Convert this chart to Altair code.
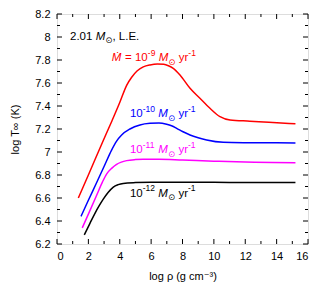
import altair as alt
import pandas as pd

# ---------------- data ----------------
rho_red = [1.36, 2.0, 2.95, 3.5, 4.0, 4.44, 4.76, 5.1, 5.5, 5.93, 6.4, 6.8, 7.1, 7.41,
           7.84, 8.48, 9.11, 9.75, 10.39, 11.03, 12.3, 13.5, 15.2]
T_red = [6.60, 6.80, 7.10, 7.27, 7.43, 7.58, 7.65, 7.705, 7.74, 7.757, 7.765, 7.762, 7.75, 7.728,
         7.67, 7.554, 7.467, 7.38, 7.307, 7.278, 7.268, 7.258, 7.245]

rho_blue = [1.53, 2.0, 2.5, 3.0, 3.48, 3.8, 4.12, 4.65, 5.29, 5.93, 6.5, 6.99, 7.3, 7.63,
            8.0, 8.48, 9.0, 9.54, 10.6, 12.3, 15.2]
T_blue = [6.44, 6.58, 6.726, 6.874, 7.017, 7.095, 7.148, 7.20, 7.235, 7.249, 7.252, 7.241, 7.228, 7.206,
          7.178, 7.148, 7.124, 7.104, 7.084, 7.081, 7.079]

rho_mag = [1.61, 2.0, 2.5, 2.9, 3.17, 3.5, 3.8, 4.1, 4.44, 5.0, 5.5, 6.5, 8.0, 10.0, 12.0, 15.2]
T_mag = [6.34, 6.46, 6.615, 6.74, 6.81, 6.86, 6.893, 6.912, 6.925, 6.934, 6.937, 6.937, 6.93,
         6.92, 6.912, 6.907]

rho_blk = [1.74, 2.1, 2.42, 2.7, 2.95, 3.27, 3.59, 3.9, 4.22, 5.0, 6.0, 8.0, 10.0, 12.0, 15.2]
T_blk = [6.28, 6.38, 6.467, 6.535, 6.59, 6.65, 6.695, 6.716, 6.727, 6.734, 6.737, 6.737,
         6.736, 6.735, 6.734]

series_names = ["1e-9", "1e-10", "1e-11", "1e-12"]
series_colors = ["#ff0000", "#0000ff", "#ff00ff", "#000000"]

x_major = [0, 2, 4, 6, 8, 10, 12, 14, 16]
x_minor = [1, 3, 5, 7, 9, 11, 13, 15]
y_major = [6.2, 6.4, 6.6, 6.8, 7.0, 7.2, 7.4, 7.6, 7.8, 8.0, 8.2]
y_minor = [6.3, 6.5, 6.7, 6.9, 7.1, 7.3, 7.5, 7.7, 7.9, 8.1]

# annotation anchors (data coordinates) and their pieces
ann_anchor_x = [0.83, 3.49, 4.65, 4.65, 4.65]
ann_anchor_y = [7.974, 7.791, 7.304, 6.987, 6.609]
ann_colors = ["#000000", "#ff0000", "#0000ff", "#ff00ff", "#000000"]
ann_parts = [
    [("2.01 ", "n"), ("M", "i"), ("\u2299", "sub"), (", L.E.", "n")],
    [("\u1E40", "i"), (" = 10", "n"), ("-9", "sup"), (" ", "n"), ("M", "i"), ("\u2299", "sub"), (" yr", "n"), ("-1", "sup")],
    [("10", "n"), ("-10", "sup"), (" ", "n"), ("M", "i"), ("\u2299", "sub"), (" yr", "n"), ("-1", "sup")],
    [("10", "n"), ("-11", "sup"), (" ", "n"), ("M", "i"), ("\u2299", "sub"), (" yr", "n"), ("-1", "sup")],
    [("10", "n"), ("-12", "sup"), (" ", "n"), ("M", "i"), ("\u2299", "sub"), (" yr", "n"), ("-1", "sup")],
]

# ---------------- styling ----------------
FONT = "Liberation Sans, Arial, Helvetica, DejaVu Sans, sans-serif"
W, H = 251, 230
BASE = 11
LBL = 11.5
SIZES = {"n": LBL, "i": LBL, "sup": 8.5, "sub": 8.5}
DYS = {"n": 0, "i": 0, "sup": -5.5, "sub": 3.5}
CHAR_W = {"0": .556, "1": .556, "2": .556, "3": .556, "4": .556, "5": .556, "6": .556,
          "7": .556, "8": .556, "9": .556, " ": .29, "=": .584, "-": .333, "M": .833,
          "\u1E40": .86, "y": .5, "r": .333, "L": .556, "E": .667, ".": .278, ",": .278,
          "\u2299": .838}


def text_width(s, size):
    return sum(CHAR_W.get(c, .556) for c in s) * size


xs = alt.Scale(domain=[0, 16], nice=False, zero=False)
ys = alt.Scale(domain=[6.2, 8.2], nice=False, zero=False)

rows = []
for name, xs_, ts_ in zip(series_names, [rho_red, rho_blue, rho_mag, rho_blk],
                          [T_red, T_blue, T_mag, T_blk]):
    for r, t in zip(xs_, ts_):
        rows.append({"rho": r, "T": t, "series": name})
df = pd.DataFrame(rows)

x_axis = alt.Axis(values=x_major, title="log \u03c1 (g cm\u207b\u00b3)", ticks=False,
                  domain=False, grid=False, labelPadding=6, titlePadding=9,
                  labelFont=FONT, titleFont=FONT, labelFontSize=BASE, titleFontSize=BASE,
                  titleFontWeight="normal", labelColor="black", titleColor="black")
y_axis = alt.Axis(values=y_major, format="~g", title="log T\u221e (K)", ticks=False,
                  domain=False, grid=False, labelPadding=7, titlePadding=14,
                  labelFont=FONT, titleFont=FONT, labelFontSize=BASE, titleFontSize=BASE,
                  titleFontWeight="normal", labelColor="black", titleColor="black")

lines = alt.Chart(df).mark_line(strokeWidth=1.5, interpolate="monotone").encode(
    x=alt.X("rho:Q", scale=xs, axis=x_axis),
    y=alt.Y("T:Q", scale=ys, axis=y_axis),
    color=alt.Color("series:N", scale=alt.Scale(domain=series_names, range=series_colors),
                    legend=None),
    detail="series:N",
)


def tick_layer(vals, axis, length, side):
    if axis == "x":
        d = pd.DataFrame({"rho": vals})
        base = alt.Chart(d).mark_rule(color="black", strokeWidth=1)
        if side == "bottom":
            return base.encode(x=alt.X("rho:Q", scale=xs, axis=x_axis),
                               y=alt.value(H), y2=alt.value(H - length))
        return base.encode(x=alt.X("rho:Q", scale=xs, axis=x_axis),
                           y=alt.value(0), y2=alt.value(length))
    d = pd.DataFrame({"T": vals})
    base = alt.Chart(d).mark_rule(color="black", strokeWidth=1)
    if side == "left":
        return base.encode(y=alt.Y("T:Q", scale=ys, axis=y_axis),
                           x=alt.value(0), x2=alt.value(length))
    return base.encode(y=alt.Y("T:Q", scale=ys, axis=y_axis),
                       x=alt.value(W), x2=alt.value(W - length))


ticks = [
    tick_layer(x_major, "x", 5, "bottom"), tick_layer(x_major, "x", 5, "top"),
    tick_layer(x_minor, "x", 3, "bottom"), tick_layer(x_minor, "x", 3, "top"),
    tick_layer(y_major, "y", 5, "left"), tick_layer(y_major, "y", 5, "right"),
    tick_layer(y_minor, "y", 3, "left"), tick_layer(y_minor, "y", 3, "right"),
]

texts = []
for ax, ay, col, parts in zip(ann_anchor_x, ann_anchor_y, ann_colors, ann_parts):
    d = pd.DataFrame({"rho": [ax], "T": [ay]})
    off = 0.0
    for txt, kind in parts:
        size = SIZES[kind]
        stripped = txt.lstrip(" ")
        off += text_width(txt[:len(txt) - len(stripped)], size)
        body = stripped.rstrip(" ")
        if body:
            t = alt.Chart(d).mark_text(
                text=body, align="left", baseline="alphabetic", dx=off, dy=DYS[kind],
                fontSize=size, fontStyle="italic" if kind == "i" else "normal",
                font=FONT, color=col,
            ).encode(x=alt.X("rho:Q", scale=xs, axis=x_axis),
                     y=alt.Y("T:Q", scale=ys, axis=y_axis))
            texts.append(t)
        off += text_width(stripped, size)

chart = alt.layer(lines, *ticks, *texts).properties(
    width=W, height=H,
    padding={"left": 49, "top": 6, "right": 14, "bottom": 42},
    autosize=alt.AutoSizeParams(type="none"),
).configure_view(stroke="black", strokeWidth=1.2).configure(background="white")

chart.save("out.html", embed_options={"renderer": "svg", "actions": False})
